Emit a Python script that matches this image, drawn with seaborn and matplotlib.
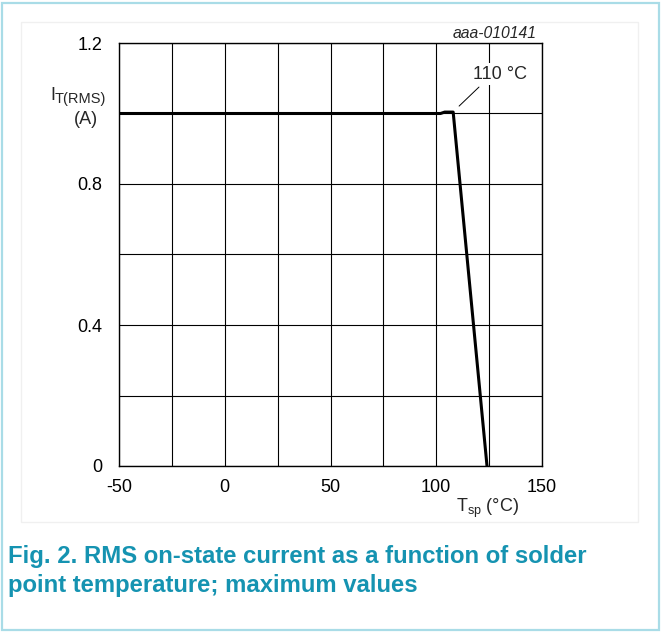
import matplotlib
matplotlib.use('Agg')
import matplotlib.pyplot as plt
from matplotlib.patches import Rectangle
from matplotlib.ticker import MultipleLocator
import seaborn as sns
import pandas as pd

# ── data ─────────────────────────────────────────────────────
temp_c = [-50, 102, 104, 108, 124]
i_rms = [1.0, 1.0, 1.004, 1.004, 0.0]
x_ticks = [-50, 0, 50, 100, 150]
x_tick_labels = ['-50', '0', '50', '100', '150']
y_ticks = [0, 0.4, 0.8, 1.2]
y_tick_labels = ['0', '0.4', '0.8', '1.2']

df = pd.DataFrame({'Tsp': temp_c, 'IT': i_rms})

sns.set_style('white')
plt.rcParams['font.family'] = ['Liberation Sans', 'DejaVu Sans']
plt.rcParams['mathtext.fontset'] = 'custom'
plt.rcParams['mathtext.rm'] = 'Liberation Sans'
plt.rcParams['mathtext.it'] = 'Liberation Sans:italic'
plt.rcParams['axes.unicode_minus'] = False

teal = '#1593b1'
fs = 13
W, H = 662, 632

fig = plt.figure(figsize=(6.62, 6.32), dpi=100)
fig.patch.set_facecolor('white')

# outer frame and faint inner box
fig.patches.append(Rectangle((2 / W, 2 / H), 657 / W, 627 / H, transform=fig.transFigure,
                             fill=False, edgecolor='#a9dce7', lw=1.6))
fig.patches.append(Rectangle((21 / W, 110 / H), 617 / W, 500 / H, transform=fig.transFigure,
                             fill=False, edgecolor='#f0f0f0', lw=1.0))

ax = fig.add_axes([119 / W, 1 - 466 / H, 423 / W, 423 / H])
sns.lineplot(data=df, x='Tsp', y='IT', ax=ax, color='black', lw=2.2,
             estimator=None, sort=False)

ax.set_xlim(-50, 150)
ax.set_ylim(0, 1.2)
ax.set_xticks(x_ticks)
ax.set_xticklabels(x_tick_labels)
ax.set_yticks(y_ticks)
ax.set_yticklabels(y_tick_labels)
ax.xaxis.set_minor_locator(MultipleLocator(25))
ax.yaxis.set_minor_locator(MultipleLocator(0.2))
ax.grid(which='both', color='black', lw=0.8)
ax.tick_params(which='both', length=0, labelsize=fs, colors='black')
ax.tick_params(axis='x', pad=9)
ax.tick_params(axis='y', pad=12)
for s in ax.spines.values():
    s.set_color('black')
    s.set_linewidth(1.0)
ax.set_xlabel('')
ax.set_ylabel('')

# y label: I with a T(RMS) subscript, then unit
fig.text(50 / W, 1 - 99.5 / H, 'I', fontsize=fs, ha='left', va='baseline')
fig.text(55 / W, 1 - 102.5 / H, 'T(RMS)', fontsize=10.5, ha='left', va='baseline')
ax.text(-0.078, 0.820, '(A)', transform=ax.transAxes,
        ha='center', va='center', fontsize=fs)
# x label
ax.text(0.872, -0.100, r'T$_{\mathrm{sp}}$ (°C)', transform=ax.transAxes,
        ha='center', va='center', fontsize=fs)

# figure code
ax.text(0.988, 1.0236, 'aaa-010141', transform=ax.transAxes, ha='right', va='center',
        fontsize=11.3, style='italic')

# 110 °C callout
ax.plot([110.8, 120.2], [1.021, 1.075], color='black', lw=0.7)
ax.text(130.0, 1.112, '110 °C', ha='center', va='center', fontsize=fs,
        bbox=dict(facecolor='white', edgecolor='none', pad=2))

# caption
fig.text(8 / W, 1 - 563 / H, 'Fig. 2. RMS on-state current as a function of solder',
         color=teal, fontsize=17.2, fontweight='bold', ha='left', va='baseline')
fig.text(8 / W, 1 - 592 / H, 'point temperature; maximum values',
         color=teal, fontsize=17.2, fontweight='bold', ha='left', va='baseline')

fig.savefig('out.png', dpi=100)
